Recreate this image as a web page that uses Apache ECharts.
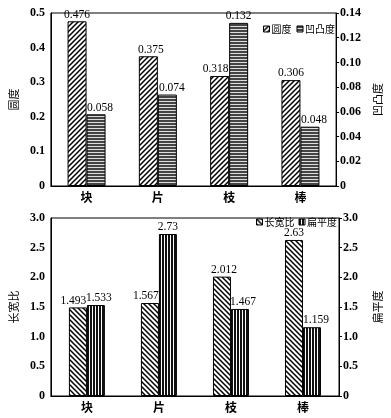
<!DOCTYPE html>
<html><head><meta charset="utf-8">
<script src="https://cdn.jsdelivr.net/npm/echarts@6/dist/echarts.min.js"></script>
<style>html,body{margin:0;padding:0;background:#fff}#c{width:391px;height:418px}</style>
</head><body><div id="c"></div>
<script>
var categories = ['块', '片', '枝', '棒'];
var roundness = [0.476, 0.375, 0.318, 0.306];
var convexity = [0.058, 0.074, 0.132, 0.048];
var aspectRatio = [1.493, 1.567, 2.012, 2.63];
var flatness = [1.533, 2.73, 1.467, 1.159];

// horizontal nudges of value labels (style only)
var roundnessLabelDx = [0, 2.5, -4, 0];
var convexityLabelDx = [4, 4.5, 0, 4];
var aspectLabelDx = [-4.5, -4, 2, 0];
var flatLabelDx = [3, 0, 3, 4];

var SERIF = "'Liberation Serif','Noto Sans CJK SC',serif";
var CJK = "'Noto Sans CJK SC','Liberation Serif',sans-serif";

function makePattern(kind) {
  var c = document.createElement('canvas');
  var ctx;
  if (kind === 'fwd' || kind === 'back') {
    var s = 5;
    c.width = s; c.height = s;
    ctx = c.getContext('2d');
    ctx.fillStyle = '#fff'; ctx.fillRect(0, 0, s, s);
    ctx.strokeStyle = '#000'; ctx.lineWidth = 1.5;
    ctx.beginPath();
    if (kind === 'fwd') {
      for (var k = -1; k <= 1; k++) { ctx.moveTo(k * s - 1, s + 1); ctx.lineTo(k * s + s + 1, -1); }
    } else {
      for (var k = -1; k <= 1; k++) { ctx.moveTo(k * s - 1, -1); ctx.lineTo(k * s + s + 1, s + 1); }
    }
    ctx.stroke();
  } else if (kind === 'horiz') {
    c.width = 4; c.height = 3;
    ctx = c.getContext('2d');
    ctx.fillStyle = '#ddd'; ctx.fillRect(0, 0, 4, 3);
    ctx.fillStyle = '#444'; ctx.fillRect(0, 0, 4, 2);
  } else {
    c.width = 3; c.height = 4;
    ctx = c.getContext('2d');
    ctx.fillStyle = '#fff'; ctx.fillRect(0, 0, 3, 4);
    ctx.fillStyle = '#111'; ctx.fillRect(0, 0, 2, 4);
  }
  return { image: c, repeat: 'repeat' };
}

var chart = echarts.init(document.getElementById('c'), null, { renderer: 'canvas' });

function yAxisBase(gridIndex, pos, min, max, interval, fmt, name, nameGap, showTick) {
  return {
    type: 'value', gridIndex: gridIndex, position: pos, min: min, max: max, interval: interval,
    name: name, nameLocation: 'middle', nameGap: nameGap, nameRotate: 90,
    nameTextStyle: { fontFamily: CJK, fontSize: 11, color: '#000' },
    axisLine: { show: true, lineStyle: { color: '#000', width: 1 } },
    axisTick: { show: showTick, length: 3, lineStyle: { color: '#000' } },
    splitLine: { show: false },
    axisLabel: { color: '#000', fontFamily: SERIF, fontSize: 12, fontWeight: 'bold', margin: showTick ? 4 : 6,
      formatter: fmt }
  };
}

function withLabels(values, dxs) {
  return values.map(function (v, i) {
    return { value: v, label: { offset: [dxs[i], 0] } };
  });
}

var labelCfg = {
  show: true, position: 'top', distance: 1, color: '#000', fontFamily: SERIF, fontSize: 11.5,
  formatter: function (p) { return String(p.value); }
};

var legendText = { fontFamily: CJK, fontSize: 10, color: '#000', padding: [0, 0, 0, -3] };

var option = {
  backgroundColor: '#fff',
  animation: false,
  grid: [
    { left: 42, right: 45, top: 13, height: 173, show: true, borderColor: '#000', borderWidth: 1, backgroundColor: 'transparent' },
    { left: 46, right: 45, top: 218, height: 178, show: true, borderColor: '#000', borderWidth: 1, backgroundColor: 'transparent' }
  ],
  legend: [
    { data: ['圆度', '凹凸度'], right: 51, top: 19, icon: 'rect', itemWidth: 6, itemHeight: 6, itemGap: 5,
      itemStyle: { borderColor: '#000', borderWidth: 1 }, textStyle: legendText },
    { data: ['长宽比', '扁平度'], right: 49, top: 212, icon: 'rect', itemWidth: 6, itemHeight: 6, itemGap: 4,
      itemStyle: { borderColor: '#000', borderWidth: 1 }, textStyle: legendText }
  ],
  xAxis: [
    { type: 'category', gridIndex: 0, data: categories,
      axisLine: { lineStyle: { color: '#000' } }, axisTick: { show: false },
      axisLabel: { color: '#000', fontFamily: CJK, fontSize: 12, fontWeight: 'bold', margin: 5 } },
    { type: 'category', gridIndex: 1, data: categories,
      axisLine: { lineStyle: { color: '#000' } }, axisTick: { show: false },
      axisLabel: { color: '#000', fontFamily: CJK, fontSize: 12, fontWeight: 'bold', margin: 5 } }
  ],
  yAxis: [
    yAxisBase(0, 'left', 0, 0.5, 0.1, function (v) { return v === 0 ? '0' : v.toFixed(1); }, '圆度', 29.5, false),
    yAxisBase(0, 'right', 0, 0.14, 0.02, function (v) { return v === 0 ? '0' : v.toFixed(2); }, '凹凸度', 34, true),
    yAxisBase(1, 'left', 0, 3, 0.5, function (v) { return v === 0 ? '0' : v.toFixed(1); }, '长宽比', 23.5, false),
    yAxisBase(1, 'right', 0, 3, 0.5, function (v) { return v === 0 ? '0' : v.toFixed(1); }, '扁平度', 33, true)
  ],
  series: [
    { name: '圆度', type: 'bar', z: 3, xAxisIndex: 0, yAxisIndex: 0, data: withLabels(roundness, roundnessLabelDx), barWidth: 19, barGap: '0%',
      itemStyle: { color: makePattern('fwd'), borderColor: '#000', borderWidth: 1 }, label: labelCfg },
    { name: '凹凸度', type: 'bar', z: 2, xAxisIndex: 0, yAxisIndex: 1, data: withLabels(convexity, convexityLabelDx), barWidth: 19, barGap: '0%',
      itemStyle: { color: makePattern('horiz'), borderColor: '#000', borderWidth: 1 }, label: labelCfg },
    { name: '长宽比', type: 'bar', z: 3, xAxisIndex: 1, yAxisIndex: 2, data: withLabels(aspectRatio, aspectLabelDx), barWidth: 18, barGap: '0%',
      itemStyle: { color: makePattern('back'), borderColor: '#000', borderWidth: 1 }, label: labelCfg },
    { name: '扁平度', type: 'bar', z: 2, xAxisIndex: 1, yAxisIndex: 3, data: withLabels(flatness, flatLabelDx), barWidth: 18, barGap: '0%',
      itemStyle: { color: makePattern('vert'), borderColor: '#000', borderWidth: 1 }, label: labelCfg }
  ]
};
chart.setOption(option);
</script>
</body></html>
